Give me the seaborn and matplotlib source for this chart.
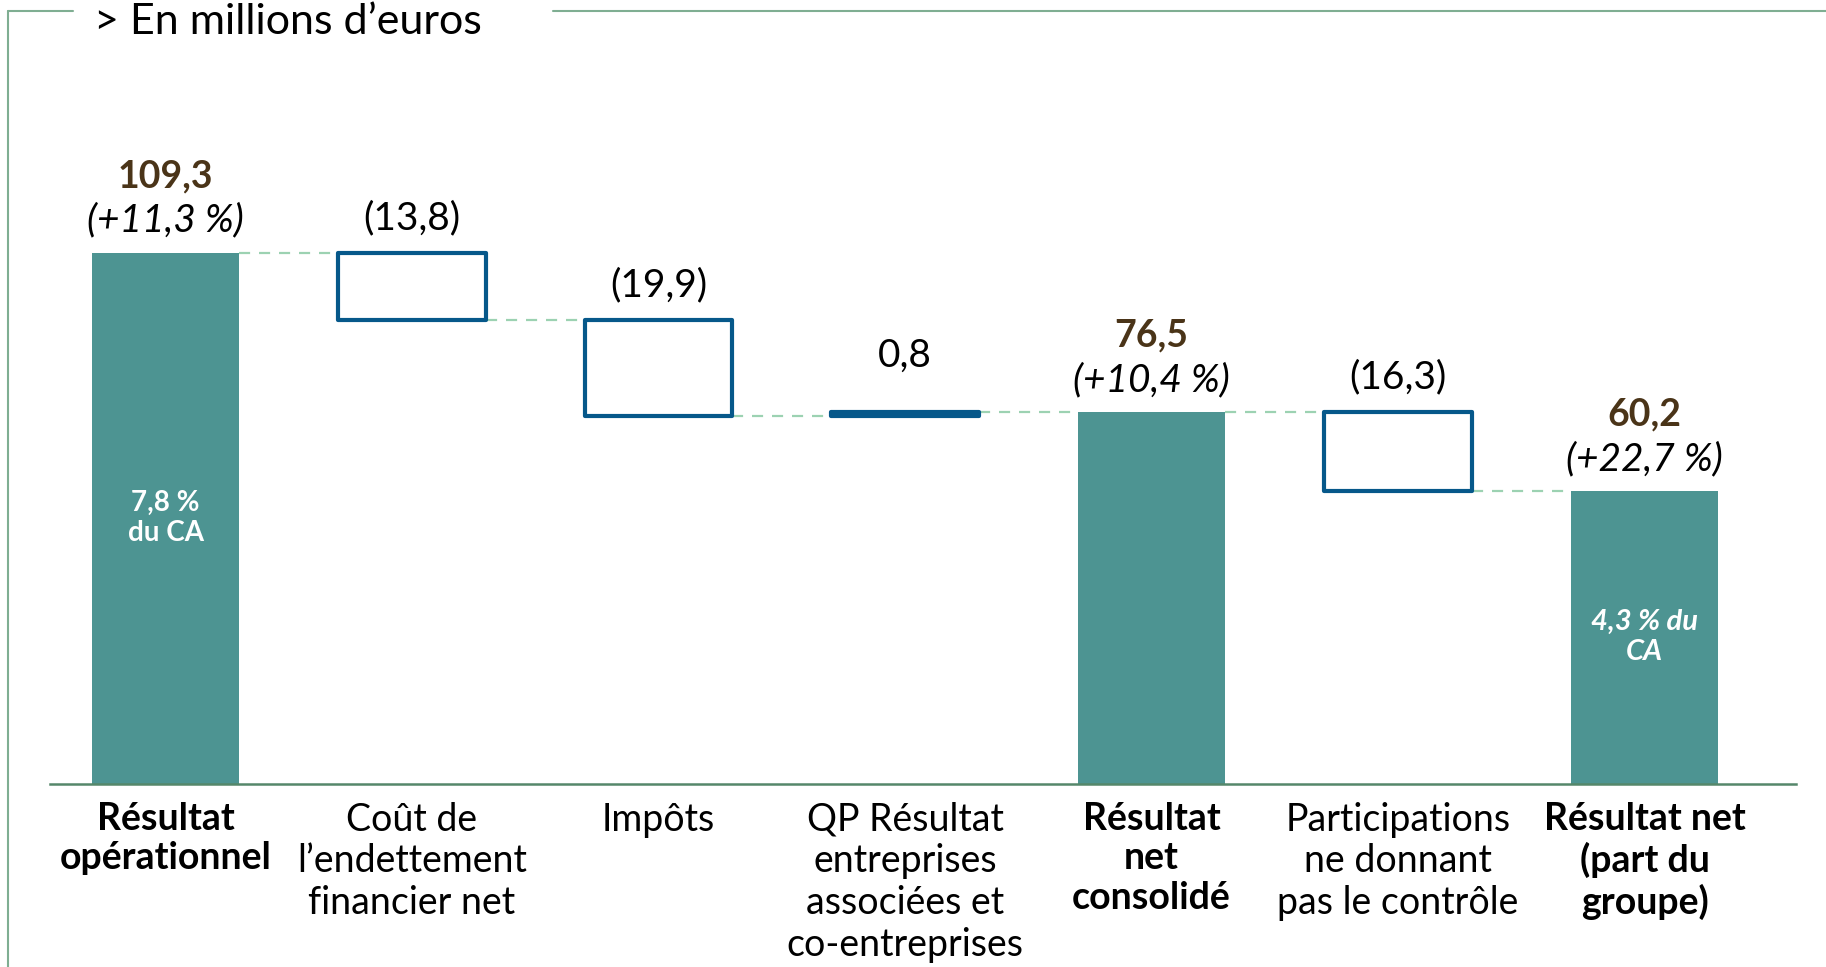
import numpy as np
import pandas as pd
import matplotlib
matplotlib.use("Agg")
import matplotlib.pyplot as plt
from matplotlib.lines import Line2D
import seaborn as sns

# --- data (millions d'euros) -------------------------------------------------
categories = [
    "Résultat\nopérationnel",
    "Coût de\nl’endettement\nfinancier net",
    "Impôts",
    "QP Résultat\nentreprises\nassociées et\nco-entreprises",
    "Résultat\nnet\nconsolidé",
    "Participations\nne donnant\npas le contrôle",
    "Résultat net\n(part du\ngroupe)",
]
is_total = [True, False, False, False, True, False, True]
values = [109.3, -13.8, -19.9, 0.8, 76.5, -16.3, 60.2]
value_labels = ["109,3", "(13,8)", "(19,9)", "0,8", "76,5", "(16,3)", "60,2"]
growth_labels = ["(+11,3 %)", None, None, None, "(+10,4 %)", None, "(+22,7 %)"]
inside_labels = ["7,8 %\ndu CA", None, None, None, None, None, "4,3 % du\nCA"]
inside_italic = [False, None, None, None, None, None, True]
unit_title = "> En millions d’euros"

# --- style --------------------------------------------------------------------
TEAL = "#4d9492"
BLUE = "#06588a"
BROWN = "#4a3418"
DASH = "#9cd2b2"
FRAME = "#7fae92"
AXIS = "#55876a"

sns.set_theme(style="white")
plt.rcParams["font.family"] = ["Lato", "DejaVu Sans"]

fig = plt.figure(figsize=(18.26, 9.67), dpi=100)
ax = fig.add_axes([0.02738, 0.18976, 0.95619, 0.81024])

# running totals: bottom / top of each floating box
bottoms, tops = [], []
running = 0.0
for v, tot in zip(values, is_total):
    if tot:
        running = v
        bottoms.append(0.0)
        tops.append(v)
    else:
        start = running
        running = running + v
        bottoms.append(min(start, running))
        tops.append(max(start, running))

df = pd.DataFrame({
    "cat": categories,
    "height": [t - b for t, b in zip(tops, bottoms)],
    "bottom": bottoms,
    "total": is_total,
})

# totals: filled teal bars
sns.barplot(data=df[df.total], x="cat", y="height", order=categories,
            color=TEAL, width=0.6, errorbar=None, saturation=1,
            linewidth=0, ax=ax)

# variations: outlined floating boxes
n_before = len(ax.patches)
sub = df[~df.total]
sns.barplot(data=sub, x="cat", y="height", order=categories,
            color="white", width=0.6, errorbar=None, saturation=1,
            edgecolor=BLUE, linewidth=3.0, ax=ax)
for patch, b in zip(ax.patches[n_before:], sub["bottom"]):
    patch.set_y(b)
    patch.set_facecolor("white")
    patch.set_edgecolor(BLUE)
    patch.set_joinstyle("round")
    patch.set_zorder(3)

# dashed connectors between consecutive bars
half = 0.3
for i in range(len(values) - 1):
    if is_total[i]:
        level = tops[i]
    else:
        level = bottoms[i] if values[i] < 0 else tops[i]
    ax.plot([i + half, i + 1 - half], [level, level], color=DASH,
            lw=1.6, ls=(0, (5, 4)), zorder=1, solid_capstyle="butt")

# labels above bars
for i in range(len(values)):
    x, top = i, tops[i]
    if is_total[i]:
        ax.annotate(growth_labels[i], (x, top), xytext=(0, 23),
                    textcoords="offset points", ha="center", va="center",
                    fontsize=28, style="italic", color="black")
        ax.annotate(value_labels[i], (x, top), xytext=(0, 55),
                    textcoords="offset points", ha="center", va="center",
                    fontsize=27, fontweight="bold", color=BROWN)
    else:
        off = 41 if abs(values[i]) < 2 else 25
        ax.annotate(value_labels[i], (x, top), xytext=(0, off),
                    textcoords="offset points", ha="center", va="center",
                    fontsize=28, color="black")
    if inside_labels[i]:
        ax.text(x, top / 2, inside_labels[i], ha="center", va="center",
                fontsize=21 if inside_italic[i] else 20, fontweight="bold",
                style="italic" if inside_italic[i] else "normal",
                color="white", linespacing=1.2)

# axes cosmetics
ax.set_xlim(-0.4686, 6.6146)
ax.set_ylim(0, 161.3)
ax.set_yticks([])
ax.set_ylabel("")
ax.set_xlabel("")
for s in ["top", "right", "left"]:
    ax.spines[s].set_visible(False)
ax.spines["bottom"].set_color(AXIS)
ax.spines["bottom"].set_linewidth(1.8)
ax.tick_params(axis="x", length=0, pad=13)
ax.set_xticks(range(len(categories)))
ax.set_xticklabels(categories, fontsize=27, linespacing=1.2)
for lab, tot in zip(ax.get_xticklabels(), is_total):
    lab.set_fontweight("bold" if tot else "normal")
    lab.set_color("black")
ax.set_facecolor("none")

# frame around the chart with the unit caption set into its top edge
H, W = 967.0, 1826.0
y_top = 1 - 11 / H
x_left = 8 / W
fig.add_artist(Line2D([x_left, x_left], [0, y_top], color=FRAME, lw=1.5))
fig.add_artist(Line2D([x_left, 73 / W], [y_top, y_top], color=FRAME, lw=1.5))
fig.add_artist(Line2D([553 / W, 1], [y_top, y_top], color=FRAME, lw=1.5))
fig.text(94 / W, 1 - 34 / H, unit_title, fontsize=31, va="baseline",
         ha="left", color="black")

fig.savefig("out.png", dpi=100, facecolor="white")
